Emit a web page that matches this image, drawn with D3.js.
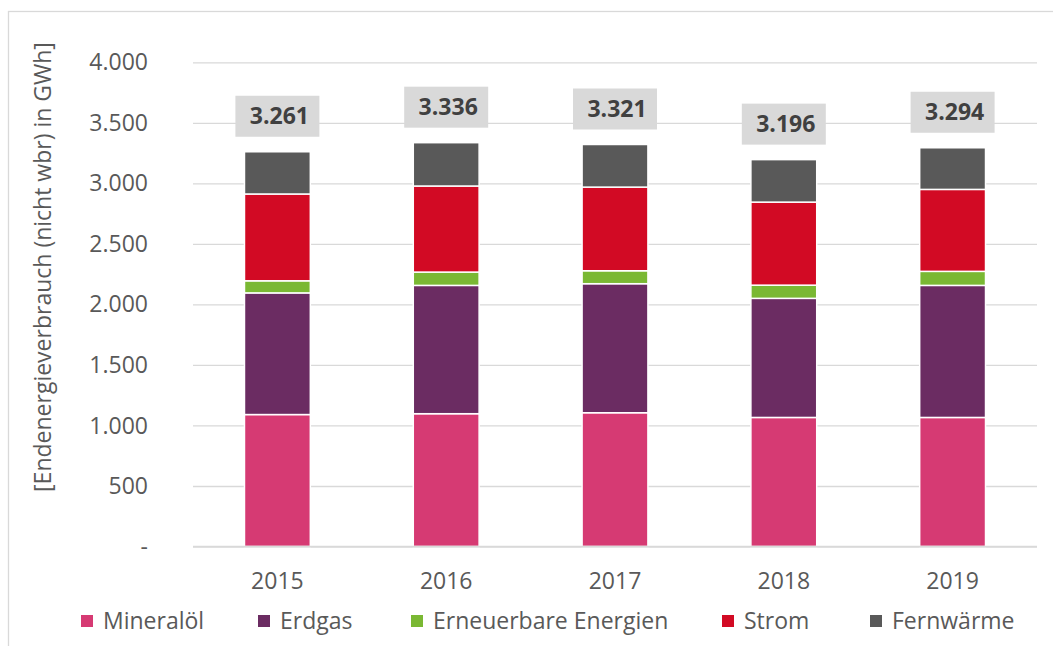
<!DOCTYPE html>
<html lang="de">
<head>
    <meta charset="UTF-8">
    <title>Endenergieverbrauch</title>
    <script src="https://cdn.jsdelivr.net/npm/d3@7"></script>
    <style>
        body { margin: 0; background: #fff; }
        text { font-family: "Open Sans", sans-serif; }
    </style>
</head>
<body>
<svg id="chart" width="1053" height="646"></svg>
<script>
    // data
    var years = ['2015', '2016', '2017', '2018', '2019'];
    var series = ['Mineralöl', 'Erdgas', 'Erneuerbare Energien', 'Strom', 'Fernwärme'];
    var mineraloel = [1090, 1097, 1105, 1066, 1066];
    var erdgas     = [1005, 1060, 1066, 984, 1091];
    var erneuerbar = [100, 110, 107, 109, 116];
    var strom      = [717, 711, 691, 686, 677];
    var fernwaerme = [349, 358, 352, 351, 344];
    var totals     = [3261, 3336, 3321, 3196, 3294];
    var yTicks = [0, 500, 1000, 1500, 2000, 2500, 3000, 3500, 4000];
    var colors = ['#d63a73', '#6b2c62', '#7ab833', '#d20a24', '#595959'];

    var svg = d3.select('#chart');
    var de = d3.formatLocale({decimal: ',', thousands: '.', grouping: [3], currency: ['', '€']});
    var fmt = de.format(',');

    var rows = years.map(function(yr, i) {
        return {year: yr, 'Mineralöl': mineraloel[i], 'Erdgas': erdgas[i],
            'Erneuerbare Energien': erneuerbar[i], 'Strom': strom[i], 'Fernwärme': fernwaerme[i],
            total: totals[i]};
    });

    var plotLeft = 193, plotRight = 1037, plotTop = 62.3, plotBottom = 546.5;

    // frame (only left + top edge visible)
    svg.append('rect')
        .attr('x', 8.5).attr('y', 11.5)
        .attr('width', 1100).attr('height', 700)
        .attr('fill', 'none').attr('stroke', '#d9d9d9').attr('stroke-width', 1.3);

    var x = d3.scaleBand().domain(years).range([plotLeft, plotRight]).paddingInner(0.61).paddingOuter(0.305);
    var y = d3.scaleLinear().domain([0, 4000]).range([plotBottom, plotTop]);
    var color = d3.scaleOrdinal().domain(series).range(colors);

    // gridlines
    svg.append('g')
        .attr('transform', 'translate(' + plotLeft + ',0)')
        .call(d3.axisLeft(y).tickValues(yTicks).tickSize(-(plotRight - plotLeft)).tickFormat(''))
        .call(function(g) {
            g.select('.domain').remove();
            g.selectAll('line').attr('stroke', '#d9d9d9').attr('stroke-width', 1.3);
        });

    // y tick labels
    svg.append('g').selectAll('text')
        .data(yTicks).enter().append('text')
        .attr('x', plotLeft - 45)
        .attr('y', function(d) { return y(d); })
        .attr('dy', '0.35em')
        .attr('text-anchor', 'end')
        .attr('fill', '#595959')
        .attr('font-size', 23)
        .text(function(d) { return d === 0 ? '-' : fmt(d); });

    // stacked bars
    var stack = d3.stack().keys(series)(rows);
    svg.append('g').selectAll('g')
        .data(stack).enter().append('g')
        .attr('fill', function(d) { return color(d.key); })
        .selectAll('rect')
        .data(function(d) { return d; })
        .enter().append('rect')
        .attr('x', function(d) { return x(d.data.year); })
        .attr('width', x.bandwidth())
        .attr('y', function(d) { return y(d[1]); })
        .attr('height', function(d) { return y(d[0]) - y(d[1]); })
        .attr('stroke', '#fff')
        .attr('stroke-width', 1.5);

    // baseline
    svg.append('line')
        .attr('x1', plotLeft).attr('x2', plotRight)
        .attr('y1', plotBottom).attr('y2', plotBottom)
        .attr('stroke', '#d9d9d9').attr('stroke-width', 1.3);

    // total labels
    var lab = svg.append('g').selectAll('g')
        .data(rows).enter().append('g')
        .attr('transform', function(d) {
            return 'translate(' + (x(d.year) + x.bandwidth() / 2) + ',' + (y(d.total) - 15) + ')';
        });
    lab.append('rect')
        .attr('x', -42).attr('y', -41)
        .attr('width', 84).attr('height', 41)
        .attr('fill', '#d9d9d9');
    lab.append('text')
        .attr('x', 2).attr('y', -20.5)
        .attr('dy', '0.35em')
        .attr('text-anchor', 'middle')
        .attr('font-size', 23)
        .attr('font-weight', 'bold')
        .attr('fill', '#404040')
        .text(function(d) { return fmt(d.total); });

    // x labels
    svg.append('g').selectAll('text')
        .data(years).enter().append('text')
        .attr('x', function(d) { return x(d) + x.bandwidth() / 2; })
        .attr('y', 581)
        .attr('dy', '0.35em')
        .attr('text-anchor', 'middle')
        .attr('fill', '#595959')
        .attr('font-size', 23)
        .text(function(d) { return d; });

    // y axis title
    svg.append('text')
        .attr('transform', 'translate(43,267) rotate(-90)')
        .attr('dy', '0.35em')
        .attr('text-anchor', 'middle')
        .attr('fill', '#595959')
        .attr('font-size', 23)
        .text('[Endenergieverbrauch (nicht wbr) in GWh]');

    // legend
    var legX = [81, 258, 411, 722, 870];
    var leg = svg.append('g').selectAll('g')
        .data(series).enter().append('g')
        .attr('transform', function(d, i) { return 'translate(' + legX[i] + ',621)'; });
    leg.append('rect')
        .attr('x', 0).attr('y', -6)
        .attr('width', 12).attr('height', 12)
        .attr('fill', function(d) { return color(d); });
    leg.append('text')
        .attr('x', 22).attr('y', 0)
        .attr('dy', '0.35em')
        .attr('fill', '#595959')
        .attr('font-size', 23)
        .text(function(d) { return d; });
</script>
</body>
</html>
